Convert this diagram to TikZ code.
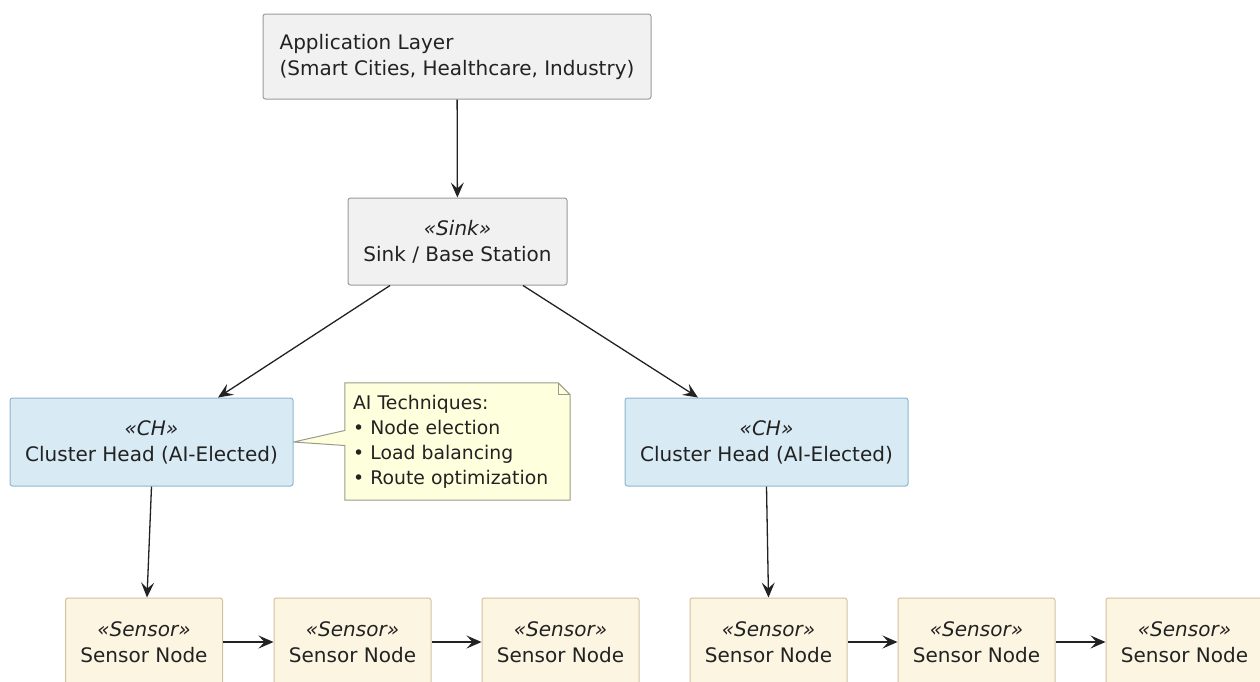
\documentclass[tikz,border=0pt]{standalone}
\usepackage{fontspec}
\setmainfont{DejaVu Sans}
\usepackage{tikz}
\usetikzlibrary{arrows.meta, backgrounds}

\definecolor{layerfill}{HTML}{F1F1F1}
\definecolor{layerdraw}{HTML}{9A9A9A}
\definecolor{chfill}{HTML}{D8EAF4}
\definecolor{chdraw}{HTML}{8DB6CF}
\definecolor{notefill}{HTML}{FEFFDD}
\definecolor{notedraw}{HTML}{9A9A8A}
\definecolor{sensorfill}{HTML}{FCF5E1}
\definecolor{sensordraw}{HTML}{D3C29E}
\definecolor{linecol}{HTML}{222222}

\tikzset{
    box/.style={rectangle, rounded corners=2.5pt, line width=1pt, align=center,
        font=\fontsize{20}{26}\selectfont, text=linecol},
    layer/.style={box, fill=layerfill, draw=layerdraw},
    chbox/.style={box, fill=chfill, draw=chdraw, minimum width=283pt, minimum height=88pt},
    sensor/.style={box, fill=sensorfill, draw=sensordraw, minimum width=157pt, minimum height=88pt},
    arr/.style={-{Stealth[length=15pt, width=13pt, inset=6pt]}, line width=1.3pt, draw=linecol}
}

\begin{document}
\begin{tikzpicture}[x=1pt, y=-1pt]
    \useasboundingbox (0,0) rectangle (1260,681);
    \clip (0,0) rectangle (1260,681);
    % Application Layer
    \node[layer, minimum width=388pt, minimum height=85pt, align=left] (App) at (457,56.5)
        {Application Layer\\(Smart Cities, Healthcare, Industry)};
    % Sink
    \node[layer, minimum width=219pt, minimum height=87pt] (Sink) at (457.5,241.5)
        {\textit{«Sink»}\\Sink / Base Station};
    % Cluster Heads
    \foreach \i/\x in {1/151.5,2/766.5} {
        \node[chbox] (CH-\i) at (\x,442) {\textit{«CH»}\\Cluster Head (AI-Elected)};
    }
    % Note
    \node[text width=209pt, inner xsep=8pt, inner ysep=0pt, minimum height=117pt, align=left,
        font=\fontsize{18.8}{25}\selectfont, text=linecol] (Note) at (457.5,441.5)
        {AI Techniques:\\• Node election\\• Load balancing\\• Route optimization};
    \begin{scope}[on background layer]
        \draw[fill=notefill, draw=notedraw, line width=1pt]
            (Note.north west) -- ([xshift=-12pt]Note.north east) -- ([yshift=-12pt]Note.north east)
            -- (Note.south east) -- (Note.south west) -- ([yshift=-4pt]Note.west)
            -- (CH-1.east) -- ([yshift=11pt]Note.west) -- cycle;
        \draw[draw=notedraw, line width=1pt]
            ([xshift=-12pt]Note.north east) -- ([xshift=-12pt, yshift=-12pt]Note.north east)
            -- ([yshift=-12pt]Note.north east);
    \end{scope}
    % Sensor Nodes
    \foreach \i/\x in {1/144,2/352.5,3/560.5,4/768.5,5/976.5,6/1184.5} {
        \node[sensor] (S-\i) at (\x,642) {\textit{«Sensor»}\\Sensor Node};
    }
    % Arrows
    \draw[arr] (App) -- (Sink);
    \draw[arr] ([xshift=-67.5pt]Sink.south) -- ([xshift=66.5pt]CH-1.north);
    \draw[arr] ([xshift=65.5pt]Sink.south) -- ([xshift=-68.5pt]CH-2.north);
    \draw[arr] (CH-1.south) -- ([xshift=3pt]S-1.north);
    \draw[arr] (CH-2.south) -- (S-4.north);
    \foreach \i/\j in {1/2,2/3,4/5,5/6} {
        \draw[arr] (S-\i) -- (S-\j);
    }
\end{tikzpicture}
\end{document}
